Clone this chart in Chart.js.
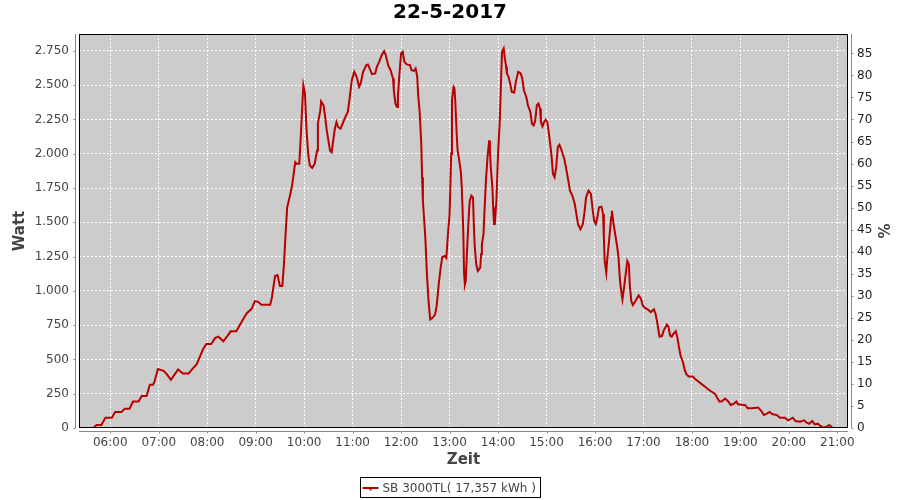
<!DOCTYPE html>
<html lang="de">
<head>
<meta charset="UTF-8" />
<title>22-5-2017</title>
<script src="https://cdn.jsdelivr.net/npm/chart.js@4.4.0/dist/chart.umd.min.js"></script>
<style>
  body { margin: 0; background: #fff; }
</style>
</head>
<body>
<canvas id="chart" width="900" height="500"></canvas>
<script>
const chartTitle = "22-5-2017";
const seriesLabel = "SB 3000TL( 17,357 kWh )";

// time of each reading, minutes after midnight
const times = [
  339, 343, 349, 354, 362, 366, 374, 378, 384, 388,
  395, 399, 405, 409, 413, 415, 419, 426, 430, 435,
  440, 444, 450, 457, 461, 467, 471, 475, 479, 485,
  490, 494, 500, 506, 509, 516, 523, 529, 535, 539,
  543, 547, 558, 560, 564, 567, 570, 573, 575, 577,
  579, 582, 585, 587, 589, 591, 594, 596, 598, 599,
  601, 603, 605, 607, 610, 613, 616, 617, 620, 621,
  624, 626, 628, 630, 632, 634, 636, 638, 640, 642,
  645, 648, 651, 654, 656, 659, 662, 665, 668, 670,
  673, 677, 679, 681, 684, 688, 690, 693, 696, 699,
  701, 704, 707, 710, 711, 713, 715, 716, 718, 720,
  722, 724, 727, 731, 733, 736, 738, 740, 741, 743,
  745, 746, 747, 750, 752, 754, 756, 759, 762, 764,
  767, 769, 771, 774, 776, 778, 780, 781, 782, 783,
  785, 786, 787, 789, 790, 792, 794, 795, 796, 797,
  798, 799, 800, 802, 804, 805, 807, 809, 810, 811,
  813, 815, 818, 819, 820, 822, 823, 825, 827, 828,
  829, 830, 831, 833, 834, 835, 836, 838, 840, 842,
  843, 844, 845, 847, 848, 850, 851, 853, 855, 857,
  860, 862, 865, 868, 870, 872, 875, 877, 880, 882,
  884, 886, 888, 890, 892, 893, 895, 897, 899, 901,
  903, 906, 908, 910, 912, 914, 916, 918, 920, 922,
  924, 927, 929, 932, 935, 937, 939, 942, 945, 947,
  949, 952, 955, 957, 959, 961, 963, 965, 968, 970,
  971, 972, 974, 975, 977, 979, 980, 981, 983, 985,
  987, 989, 991, 993, 994, 996, 998, 1000, 1002, 1003,
  1005, 1007, 1010, 1014, 1017, 1019, 1022, 1026, 1029, 1033,
  1035, 1037, 1039, 1040, 1043, 1045, 1049, 1051, 1053, 1055,
  1057, 1060, 1062, 1064, 1066, 1069, 1071, 1073, 1076, 1081,
  1084, 1088, 1092, 1096, 1100, 1104, 1109, 1111, 1114, 1117,
  1121, 1125, 1128, 1132, 1135, 1137, 1146, 1149, 1154, 1162,
  1166, 1169, 1173, 1176, 1180, 1185, 1189, 1195, 1199, 1205,
  1208, 1214, 1219, 1222, 1225, 1229, 1232, 1236, 1239, 1243,
  1246, 1250, 1253, 1255
];

const watts = [
  0, 22, 22, 75, 75, 117, 117, 141, 141, 193,
  193, 234, 234, 315, 315, 344, 430, 417, 393, 351,
  393, 427, 398, 398, 425, 466, 520, 576, 613, 613,
  657, 666, 632, 679, 705, 705, 778, 837, 869, 925,
  920, 898, 898, 950, 1108, 1115, 1035, 1035, 1194, 1413,
  1609, 1682, 1767, 1853, 1938, 1926, 1926, 2146, 2390, 2500,
  2439, 2170, 1999, 1914, 1897, 1926, 2023, 2219, 2316, 2382,
  2353, 2268, 2170, 2097, 2023, 2010, 2097, 2182, 2231, 2195,
  2182, 2224, 2268, 2304, 2390, 2536, 2597, 2561, 2488, 2512,
  2597, 2646, 2651, 2622, 2580, 2585, 2634, 2671, 2719, 2748,
  2719, 2646, 2609, 2548, 2463, 2365, 2341, 2414, 2585, 2731,
  2744, 2671, 2651, 2646, 2609, 2605, 2622, 2561, 2439, 2304,
  2072, 1829, 1657, 1389, 1120, 925, 791, 803, 827, 888,
  1071, 1169, 1247, 1254, 1240, 1413, 1560, 1767, 1999, 2390,
  2488, 2480, 2390, 2121, 2023, 1950, 1865, 1767, 1609, 1426,
  1120, 1047, 1071, 1340, 1572, 1657, 1694, 1682, 1487, 1340,
  1194, 1145, 1169, 1267, 1340, 1413, 1547, 1804, 1975, 2036,
  2097, 2023, 1902, 1755, 1609, 1487, 1487, 1657, 1999, 2219,
  2390, 2585, 2744, 2768, 2719, 2634, 2585, 2561, 2512, 2451,
  2446, 2524, 2597, 2585, 2548, 2463, 2414, 2353, 2304, 2219,
  2207, 2239, 2353, 2365, 2329, 2231, 2199, 2231, 2248, 2231,
  2146, 1999, 1853, 1829, 1902, 2048, 2065, 2036, 1999, 1963,
  1902, 1804, 1731, 1694, 1633, 1560, 1487, 1450, 1487, 1572,
  1682, 1731, 1706, 1597, 1511, 1487, 1536, 1609, 1614, 1560,
  1389, 1218, 1133, 1218, 1340, 1462, 1536, 1584, 1487, 1413,
  1340, 1254, 1071, 974, 937, 1023, 1120, 1218, 1194, 1047,
  925, 896, 925, 967, 942, 893, 876, 862, 845, 864,
  833, 771, 698, 666, 672, 710, 754, 737, 674, 666,
  686, 705, 661, 588, 527, 478, 425, 393, 376, 376,
  357, 339, 320, 303, 283, 266, 247, 222, 193, 193,
  215, 193, 168, 178, 193, 173, 166, 144, 144, 149,
  124, 95, 105, 117, 100, 95, 75, 75, 56, 75,
  51, 46, 56, 39, 31, 51, 27, 31, 15, 2,
  7, 22, 7, 0
];

const hourTicks = [360, 420, 480, 540, 600, 660, 720, 780, 840, 900, 960, 1020, 1080, 1140, 1200, 1260];
const wattTicks = [0, 250, 500, 750, 1000, 1250, 1500, 1750, 2000, 2250, 2500, 2750];
const percentTicks = [0, 5, 10, 15, 20, 25, 30, 35, 40, 45, 50, 55, 60, 65, 70, 75, 80, 85];

const FONT = "'DejaVu Sans', sans-serif";

function hhmm(m) {
  const h = Math.floor(m / 60), mm = Math.round(m % 60);
  return String(h).padStart(2, "0") + ":" + String(mm).padStart(2, "0");
}
function dots(v) {
  return String(v).replace(/\B(?=(\d{3})+(?!\d))/g, ".");
}

// grey plot background, black frame, offset axis lines, legend box
const frame = {
  id: "frame",
  beforeDraw(chart) {
    const { ctx, chartArea: a } = chart;
    ctx.save();
    ctx.fillStyle = "#fff";
    ctx.fillRect(0, 0, chart.width, chart.height);
    ctx.fillStyle = "#cccccc";
    ctx.fillRect(a.left, a.top, a.right - a.left, a.bottom - a.top);
    ctx.restore();
  },
  afterDraw(chart) {
    const { ctx, chartArea: a, scales } = chart;
    ctx.save();
    ctx.lineWidth = 1;
    ctx.strokeStyle = "#000";
    ctx.strokeRect(a.left + 0.5, a.top + 0.5, a.right - a.left - 1, a.bottom - a.top - 1);

    ctx.strokeStyle = "#888";
    ctx.beginPath();
    const lx = a.left - 3.5, rx = a.right + 3.5, by = a.bottom + 3.5;
    ctx.moveTo(lx, a.top); ctx.lineTo(lx, a.bottom);
    ctx.moveTo(rx, a.top); ctx.lineTo(rx, a.bottom);
    ctx.moveTo(a.left, by); ctx.lineTo(a.right, by);
    wattTicks.forEach(v => {
      const y = Math.round(scales.y.getPixelForValue(v)) + 0.5;
      ctx.moveTo(lx, y); ctx.lineTo(lx - 2, y);
    });
    percentTicks.forEach(v => {
      const y = Math.round(scales.y2.getPixelForValue(v)) + 0.5;
      ctx.moveTo(rx, y); ctx.lineTo(rx + 2, y);
    });
    hourTicks.forEach(v => {
      const x = Math.round(scales.x.getPixelForValue(v)) + 0.5;
      ctx.moveTo(x, by); ctx.lineTo(x, by + 2);
    });
    ctx.stroke();

    // legend
    const ds = chart.data.datasets[0];
    ctx.font = "12px " + FONT;
    const tw = ctx.measureText(ds.label).width;
    const bw = Math.round(tw + 27), bh = 20;
    const bx = Math.round(chart.width / 2 - bw / 2) + 0.5, byy = 477.5;
    ctx.fillStyle = "#fff";
    ctx.fillRect(bx, byy, bw, bh);
    ctx.strokeStyle = "#000";
    ctx.strokeRect(bx, byy, bw, bh);
    ctx.strokeStyle = ds.borderColor;
    ctx.lineWidth = 2;
    ctx.beginPath();
    ctx.moveTo(bx + 2, byy + 10.5);
    ctx.lineTo(bx + 18, byy + 10.5);
    ctx.stroke();
    ctx.fillStyle = ds.borderColor;
    ctx.fillRect(bx + 9, byy + 10, 2, 3);
    ctx.fillStyle = "#444";
    ctx.textBaseline = "middle";
    ctx.fillText(ds.label, bx + 22, byy + 11);
    ctx.restore();
  }
};

const ctx = document.getElementById("chart").getContext("2d");
new Chart(ctx, {
  type: "line",
  data: {
    datasets: [{
      label: seriesLabel,
      data: times.map((t, i) => ({ x: t, y: watts[i] })),
      borderColor: "#b80000",
      borderWidth: 2,
      pointRadius: 0,
      tension: 0,
      fill: false,
      yAxisID: "y"
    }]
  },
  options: {
    responsive: false,
    devicePixelRatio: 1,
    animation: false,
    layout: { padding: { top: 0, left: 0, right: 0, bottom: 22 } },
    plugins: {
      legend: { display: false },
      tooltip: { enabled: false },
      title: {
        display: true,
        text: chartTitle,
        color: "#000",
        font: { family: FONT, size: 20, weight: "bold" },
        padding: { top: 1, bottom: 9 }
      }
    },
    scales: {
      x: {
        type: "linear",
        min: 321.3,
        max: 1273.2,
        afterBuildTicks: s => { s.ticks = hourTicks.map(v => ({ value: v })); },
        afterFit: s => { s.height = 50; },
        grid: { color: "#fff", drawTicks: false },
        border: { display: false, dash: [2, 2] },
        ticks: {
          autoSkip: false, maxRotation: 0, padding: 8,
          color: "#444", font: { family: FONT, size: 12 },
          callback: v => hhmm(v)
        },
        title: {
          display: true, text: "Zeit", color: "#444",
          font: { family: FONT, size: 15, weight: "bold" },
          padding: { top: 0, bottom: 9 }
        }
      },
      y: {
        position: "left",
        min: 0,
        max: 2873,
        afterBuildTicks: s => { s.ticks = wattTicks.map(v => ({ value: v })); },
        afterFit: s => { s.width = 79; },
        grid: { color: "#fff", drawTicks: false },
        border: { display: false, dash: [2, 2] },
        ticks: {
          padding: 10, color: "#444", font: { family: FONT, size: 12 },
          callback: v => dots(v)
        },
        title: {
          display: true, text: "Watt", color: "#444",
          font: { family: FONT, size: 15, weight: "bold" },
          padding: { top: 11, bottom: 0 }
        }
      },
      y2: {
        position: "right",
        min: 0,
        max: 89.4,
        afterBuildTicks: s => { s.ticks = percentTicks.map(v => ({ value: v })); },
        afterFit: s => { s.width = 52; },
        grid: { display: false, drawTicks: false },
        border: { display: false },
        ticks: { padding: 9, color: "#222", font: { family: FONT, size: 12 } },
        title: {
          display: true, text: "%", color: "#444",
          font: { family: FONT, size: 15, weight: "bold" },
          padding: { top: 9, bottom: 0 }
        }
      }
    }
  },
  plugins: [frame]
});
</script>
</body>
</html>
